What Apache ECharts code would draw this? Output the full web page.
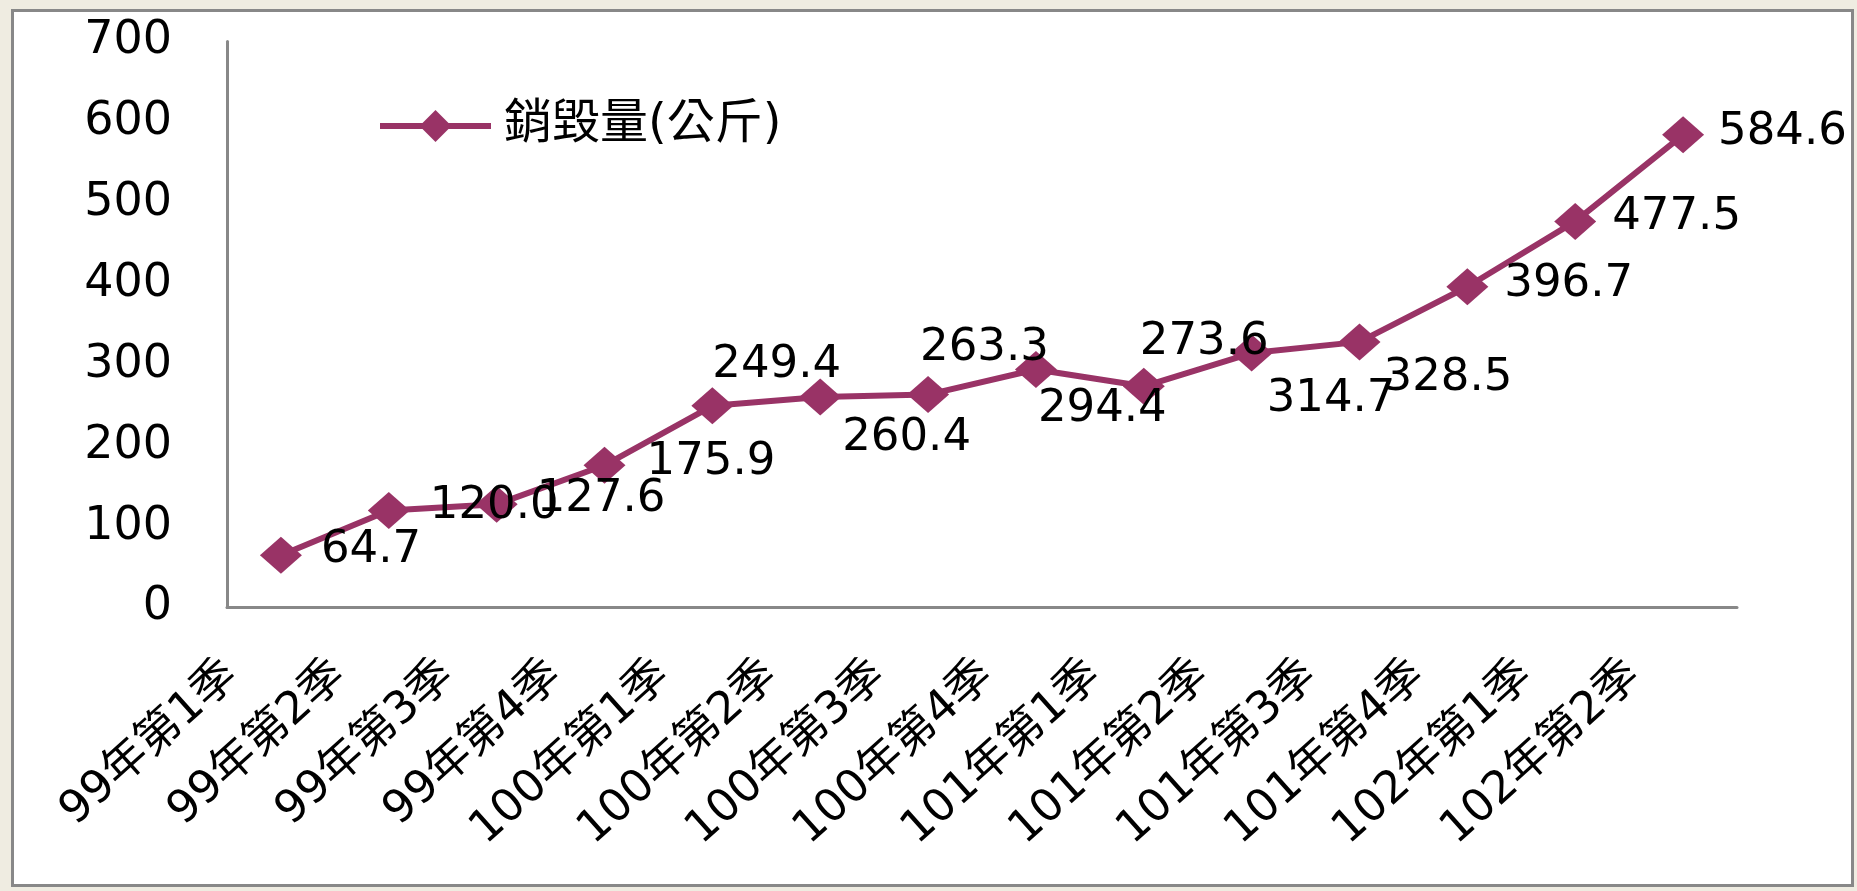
<!DOCTYPE html>
<html>
<head>
<meta charset="utf-8">
<script src="https://cdn.jsdelivr.net/npm/echarts@6/dist/echarts.min.js"></script>
<style>
  html, body { margin: 0; padding: 0; background: #efece1; }
  #frame {
    position: absolute; left: 11px; top: 9px;
    width: 1837px; height: 872px;
    border: 3px solid #888888; background: #ffffff;
  }
  #chart { position: absolute; left: 0; top: 0; width: 1857px; height: 891px; }
</style>
</head>
<body>
<div id="frame"></div>
<div id="chart"></div>
<script>
// 季別
const categories = [
  '99年第1季', '99年第2季', '99年第3季', '99年第4季',
  '100年第1季', '100年第2季', '100年第3季', '100年第4季',
  '101年第1季', '101年第2季', '101年第3季', '101年第4季',
  '102年第1季', '102年第2季',
]

// 銷毀量(公斤)
const seriesName = '銷毀量(公斤)'
const amounts = [64.7, 120.0, 127.6, 175.9, 249.4, 260.4, 263.3, 294.4, 273.6, 314.7, 328.5, 396.7, 477.5, 584.6]

// y 軸刻度
const yMin = 0
const yMax = 700
const yStep = 100

// data label nudges (px), the original labels are scattered around the points
const labelNudge = [
  [19, -5], [20, -4], [19, -5], [21, -3], [-21, -41], [1, 41], [-29, -46],
  [-19, 40], [-25, -44], [-6, 46], [3, 36], [16, -2], [16, -4], [14, -2],
]

const LINE_COLOR = '#993366'
const AXIS_COLOR = '#888888'
const FONT = "'DejaVu Sans', 'Noto Sans CJK TC', sans-serif"

const chart = echarts.init(document.getElementById('chart'))

const option = {
  animation: false,
  grid: {
    left: 227,
    top: 41.5,
    right: 120,
    bottom: 283.5,
  },
  legend: {
    left: 372,
    top: 97,
    itemWidth: 111,
    itemHeight: 40,
    data: [seriesName],
    lineStyle: { width: 6 },
    textStyle: {
      color: '#000',
      fontSize: 48,
      fontFamily: FONT,
      padding: [0, 0, 0, 8],
    },
  },
  xAxis: {
    type: 'category',
    data: categories,
    boundaryGap: true,
    axisLine: { lineStyle: { color: AXIS_COLOR, width: 3 } },
    axisTick: { show: false },
    axisLabel: {
      interval: 0,
      rotate: 42,
      margin: 18,
      padding: [0, 66, 0, 0],
      color: '#000',
      fontSize: 45,
      fontFamily: FONT,
    },
  },
  yAxis: {
    type: 'value',
    min: yMin,
    max: yMax,
    interval: yStep,
    axisLine: { show: true, lineStyle: { color: AXIS_COLOR, width: 3 } },
    axisTick: { show: false },
    splitLine: { show: false },
    axisLabel: {
      margin: 55,
      color: '#000',
      fontSize: 46,
      fontFamily: FONT,
    },
  },
  series: [
    {
      name: seriesName,
      type: 'line',
      symbol: 'diamond',
      symbolSize: [42, 37],
      lineStyle: { color: LINE_COLOR, width: 6 },
      itemStyle: { color: LINE_COLOR },
      label: {
        show: true,
        position: 'right',
        distance: 0,
        color: '#000',
        fontSize: 45,
        fontFamily: FONT,
        formatter: (p) => p.value.toFixed(1),
      },
      data: amounts.map((v, i) => ({
        value: v,
        label: { offset: labelNudge[i] },
      })),
    },
  ],
}

chart.setOption(option)
</script>
</body>
</html>
